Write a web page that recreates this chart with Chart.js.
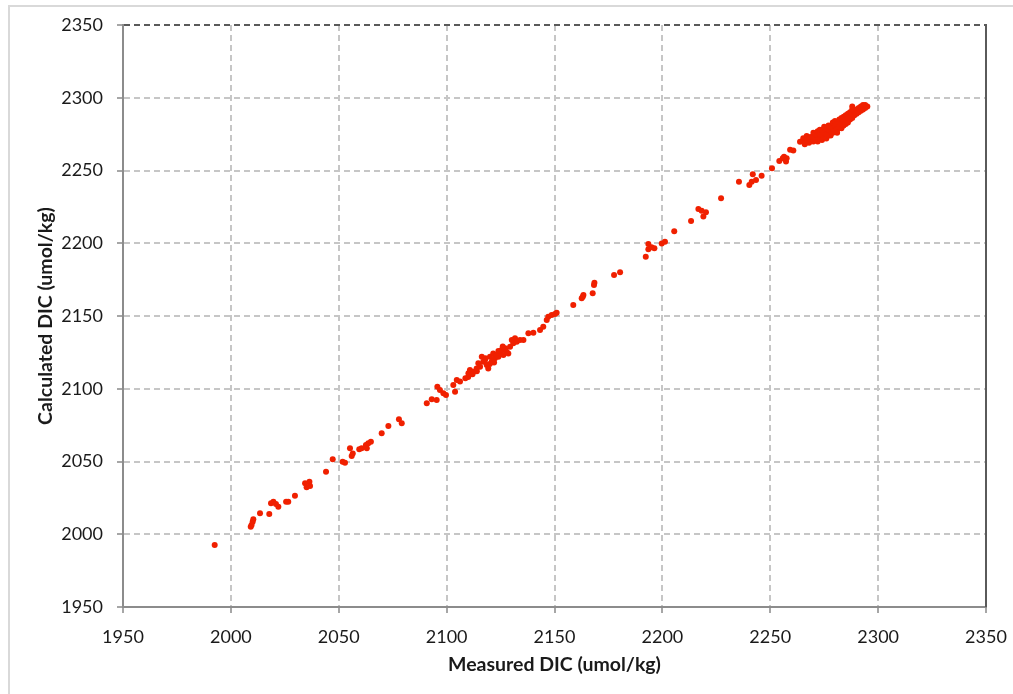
<!DOCTYPE html>
<html>
<head>
<meta charset="utf-8">
<script src="https://cdn.jsdelivr.net/npm/chart.js@4"></script>
<style>
  html, body { margin: 0; padding: 0; background: #ffffff; }
  #wrap { position: relative; width: 1013px; height: 694px; overflow: hidden; }
  #frame { position: absolute; left: 8px; top: 5px; width: 1100px; height: 800px;
           border-left: 2px solid #d9d9d9; border-top: 2px solid #d9d9d9; box-sizing: border-box; }
  canvas { position: absolute; left: 0; top: 0; }
</style>
</head>
<body>
<div id="wrap">
  <div id="frame"></div>
  <canvas id="c" width="1013" height="694"></canvas>
</div>
<script>
const axisTitleX = 'Measured DIC (umol/kg)';
const axisTitleY = 'Calculated DIC (umol/kg)';
const axisMin = 1950;
const axisMax = 2350;
const axisStep = 50;

const measuredDIC = [
  1992.5, 2009.2, 2009.6, 2010.1, 2010.4, 2013.5, 2017.8, 2018.6, 2019.7, 2020.9,
  2022.0, 2025.6, 2026.6, 2029.7, 2034.4, 2036.4, 2035.1, 2036.7, 2044.1, 2047.2,
  2051.8, 2052.9, 2055.2, 2056.0, 2056.5, 2059.5, 2060.6, 2062.6, 2063.7, 2064.9,
  2063.0, 2069.9, 2073.0, 2077.9, 2079.2, 2090.8, 2093.1, 2095.4, 2095.7, 2096.9,
  2098.5, 2099.7, 2103.1, 2103.9, 2104.7, 2106.2,
  2108.7, 2110.1, 2110.8, 2112.4, 2113.9, 2114.7, 2115.5, 2116.3, 2117.0, 2117.8,
  2118.6, 2119.3, 2120.1, 2120.9, 2121.6, 2122.4, 2123.2, 2124.0, 2124.7, 2125.5,
  2126.3, 2127.1, 2127.8, 2128.6, 2129.4, 2130.2, 2130.9, 2131.7, 2132.5, 2134.0,
  2135.6, 2137.9, 2140.2, 2143.3, 2144.8, 2146.4, 2147.1, 2148.7, 2150.2, 2151.0,
  2112.0, 2118.0, 2122.0, 2126.0, 2114.0, 2120.0, 2124.0, 2110.0,
  2158.7, 2162.6, 2163.4, 2163.1, 2167.7, 2168.5, 2168.3, 2177.6, 2180.4, 2192.3,
  2193.5, 2193.5, 2195.0, 2196.3, 2199.7, 2201.2, 2205.5, 2213.3, 2216.7, 2218.2,
  2219.0, 2220.2, 2227.2, 2235.5, 2240.3, 2241.4, 2241.9, 2243.4, 2246.0, 2250.8,
  2254.2, 2255.8, 2256.4, 2257.6, 2257.3, 2259.2, 2260.7, 2263.8, 2265.3, 2266.9,
  2268.4, 2266.1,
  2266, 2267, 2268, 2268, 2269, 2270, 2270, 2270, 2271, 2271,
  2272, 2272, 2272, 2273, 2273, 2273, 2274, 2274, 2274, 2275,
  2275, 2275, 2276, 2276, 2276, 2277, 2277, 2277, 2278, 2278,
  2278, 2279, 2279, 2279, 2280, 2280, 2280, 2281, 2281, 2281,
  2282, 2282, 2282, 2283, 2283, 2283, 2284, 2284, 2284, 2285,
  2285, 2285, 2286, 2286, 2286, 2287, 2287, 2287, 2288, 2288,
  2288, 2289, 2289, 2290, 2290, 2291, 2291, 2292, 2292, 2293,
  2293, 2294, 2294, 2288, 2295
];

const calculatedDIC = [
  1992.6, 2005.2, 2006.4, 2008.6, 2010.3, 2014.4, 2013.9, 2021.3, 2022.4, 2020.8,
  2018.9, 2022.4, 2022.4, 2026.5, 2035.0, 2036.1, 2032.3, 2033.2, 2043.0, 2051.5,
  2049.9, 2049.2, 2059.1, 2053.8, 2055.5, 2058.4, 2059.1, 2061.3, 2062.5, 2063.6,
  2059.1, 2069.4, 2074.4, 2079.0, 2076.3, 2090.0, 2092.7, 2092.3, 2101.4, 2099.1,
  2096.9, 2095.7, 2102.6, 2098.0, 2106.0, 2104.9,
  2107.2, 2110.6, 2112.9, 2111.7, 2114.0, 2117.5, 2115.2, 2122.0, 2118.6, 2119.8,
  2116.3, 2114.0, 2122.0, 2118.6, 2124.3, 2120.9, 2123.2, 2122.0, 2124.3, 2126.6,
  2123.2, 2127.8, 2125.5, 2124.3, 2128.9, 2133.5, 2131.2, 2134.7, 2132.3, 2133.5,
  2133.5, 2138.1, 2138.5, 2140.4, 2142.6, 2147.3, 2149.5, 2150.7, 2151.4, 2152.3,
  2110.0, 2121.0, 2118.0, 2129.0, 2112.0, 2117.0, 2126.0, 2108.0,
  2157.6, 2162.2, 2164.4, 2163.2, 2165.6, 2172.9, 2171.3, 2178.2, 2180.0, 2190.8,
  2199.5, 2195.8, 2197.2, 2196.5, 2199.9, 2201.1, 2208.2, 2215.3, 2223.5, 2222.4,
  2218.3, 2221.3, 2230.9, 2242.3, 2240.0, 2242.3, 2247.4, 2243.5, 2246.4, 2251.5,
  2256.5, 2258.4, 2259.5, 2258.4, 2256.1, 2264.3, 2263.8, 2269.8, 2272.1, 2273.7,
  2272.8, 2268.7,
  2268, 2271, 2269, 2272, 2273, 2270, 2273, 2276, 2271, 2275,
  2270, 2274, 2277, 2272, 2275, 2278, 2271, 2275, 2278, 2273,
  2276, 2280, 2272, 2275, 2279, 2274, 2278, 2281, 2274, 2277,
  2280, 2276, 2279, 2283, 2277, 2281, 2284, 2278, 2282, 2276,
  2280, 2283, 2285, 2279, 2282, 2286, 2281, 2284, 2287, 2282,
  2285, 2288, 2283, 2286, 2289, 2285, 2288, 2290, 2286, 2289,
  2292, 2288, 2291, 2289, 2292, 2290, 2293, 2291, 2294, 2292,
  2295, 2293, 2295, 2294, 2294
];

const points = measuredDIC.map((x, i) => ({ x: x, y: calculatedDIC[i] }));

const rightBorder = {
  id: 'rightBorder',
  beforeDatasetsDraw(chart) {
    const { ctx, chartArea } = chart;
    ctx.save();
    ctx.strokeStyle = '#5a5a5a';
    ctx.lineWidth = 2;
    ctx.beginPath();
    ctx.moveTo(chartArea.right, chartArea.top - 1);
    ctx.lineTo(chartArea.right, chartArea.bottom);
    ctx.stroke();
    ctx.restore();
  }
};

const tickFont = { family: 'Lato', size: 18 };
const titleFont = { family: 'Lato', size: 19.5, weight: 'bold' };
const plainLabel = (v) => String(v);

new Chart(document.getElementById('c'), {
  type: 'scatter',
  data: {
    datasets: [{
      data: points,
      backgroundColor: '#f02000',
      borderWidth: 0,
      pointRadius: 3,
      pointHoverRadius: 3
    }]
  },
  options: {
    responsive: false,
    animation: false,
    events: [],
    layout: { padding: { left: 0, top: 25, right: 27, bottom: 0 } },
    plugins: { legend: { display: false }, tooltip: { enabled: false } },
    scales: {
      x: {
        type: 'linear',
        min: axisMin, max: axisMax,
        afterFit(scale) { scale.height = 87; scale.paddingRight = 0; scale.paddingLeft = 0; },
        ticks: { stepSize: axisStep, color: '#1a1a1a', font: tickFont, padding: 13, maxRotation: 0, callback: plainLabel },
        grid: {
          color: (ctx) => (ctx.tick && ctx.tick.value === axisMax) ? 'rgba(0,0,0,0)' : '#c6c6c6',
          lineWidth: 2,
          tickColor: '#a6a6a6',
          tickLength: 6,
          tickWidth: 2
        },
        border: { display: true, color: '#8c8c8c', width: 2, dash: [6, 4] },
        title: { display: true, text: axisTitleX, color: '#1a1a1a', font: titleFont, padding: { top: 4, bottom: 18 } }
      },
      y: {
        type: 'linear',
        min: axisMin, max: axisMax,
        afterFit(scale) { scale.width = 123; },
        ticks: { stepSize: axisStep, color: '#1a1a1a', font: tickFont, padding: 14, callback: plainLabel },
        grid: {
          color: (ctx) => (ctx.tick && ctx.tick.value === axisMax) ? '#5a5a5a' : '#c6c6c6',
          lineWidth: 2,
          tickColor: '#a6a6a6',
          tickLength: 6,
          tickWidth: 2
        },
        border: { display: true, color: '#8c8c8c', width: 2, dash: [6, 4] },
        title: { display: true, text: axisTitleY, color: '#1a1a1a', font: titleFont, padding: { top: 34, bottom: 4 } }
      }
    }
  },
  plugins: [rightBorder]
});
</script>
</body>
</html>
